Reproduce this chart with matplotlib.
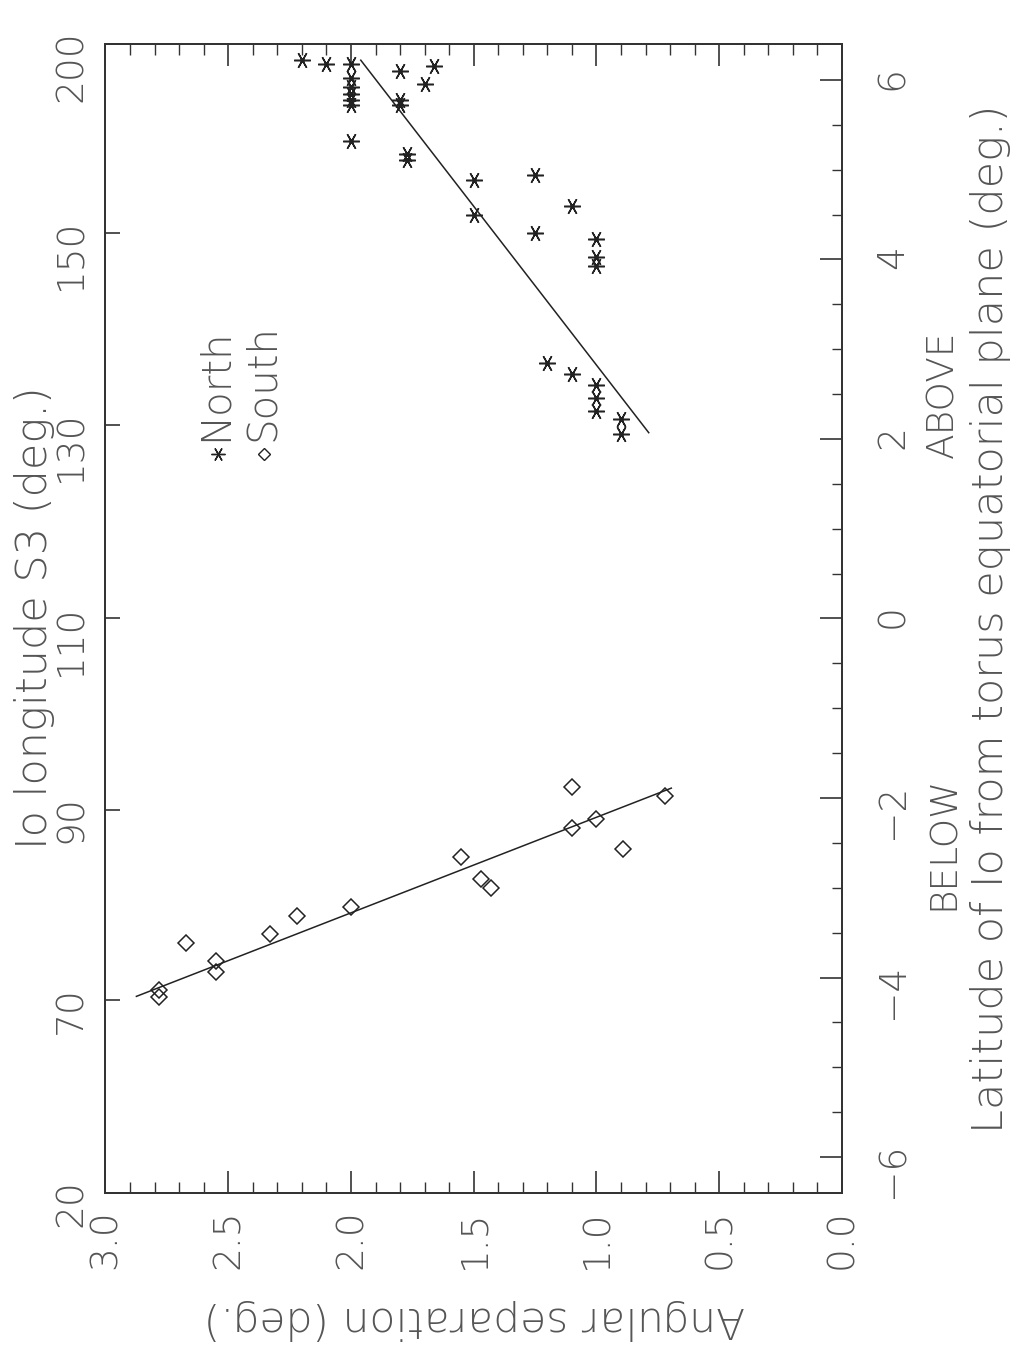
import matplotlib
matplotlib.use('Agg')
import matplotlib.pyplot as plt
import matplotlib.transforms as mtransforms
from matplotlib.ticker import MultipleLocator, FormatStrFormatter

# North points (asterisks): angular separation (deg.) vs latitude of Io (deg.)
north_sep = [2.2, 2.1, 2.0, 2.0, 2.0, 2.0, 2.0, 2.0, 1.8, 1.66, 1.70, 1.8, 1.8,
             2.0, 1.77, 1.77, 1.5, 1.5, 1.25, 1.1, 1.25, 1.0, 1.0, 1.0,
             1.2, 1.1, 1.0, 1.0, 1.0, 0.9, 0.9]
north_lat = [6.22, 6.18, 6.18, 6.02, 5.92, 5.84, 5.78, 5.72, 6.10, 6.16, 5.95, 5.78, 5.72,
             5.32, 5.17, 5.11, 4.88, 4.50, 4.94, 4.60, 4.30, 4.23, 4.03, 3.93,
             2.85, 2.72, 2.60, 2.46, 2.31, 2.22, 2.05]

# South points (diamonds)
south_sep = [2.78, 2.78, 2.67, 2.55, 2.55, 2.33, 2.22, 2.0, 1.55, 1.47, 1.43,
             1.1, 1.1, 1.0, 0.89, 0.72]
south_lat = [-4.14, -4.22, -3.62, -3.82, -3.94, -3.52, -3.31, -3.21, -2.66, -2.90, -3.00,
             -1.88, -2.33, -2.23, -2.57, -1.98]

# fitted lines (end points)
north_fit_sep = [1.96, 0.787]
north_fit_lat = [6.22, 2.07]
south_fit_sep = [2.874, 0.695]
south_fit_lat = [-4.21, -1.89]

# Io longitude S3 ticks placed on the latitude scale
lon_labels = ['20', '70', '90', '110', '130', '150', '200']
lon_pos = [-6.4, -4.25, -2.13, 0.0, 2.16, 4.3, 6.4]

ink = '#222222'
txt = '#555555'
fs_tick = 27
fs_lab = 31

plt.rcParams['font.family'] = ['DejaVu Sans']
plt.rcParams['axes.edgecolor'] = '#333333'
plt.rcParams['axes.linewidth'] = 1.3

fig = plt.figure(figsize=(10.23, 13.55), dpi=100)
ax = fig.add_axes([0.1031, 0.1196, 0.7199, 0.8479])
ax_l = ax.twinx()  # carries the Io longitude ticks on the left side

# data
ax.plot(north_sep, north_lat, linestyle='none', marker=(6, 2, 90), ms=12, mew=1.1, color=ink)
ax.plot(north_sep, north_lat, linestyle='none', marker='o', ms=2.5, color=ink)
ax.plot(south_sep, south_lat, linestyle='none', marker='D', ms=8, mfc='none', mec=ink, mew=1.1)
ax.plot(north_fit_sep, north_fit_lat, color=ink, lw=1.1)
ax.plot(south_fit_sep, south_fit_lat, color=ink, lw=1.1)

# legend drawn by hand
ax.plot([2.54], [1.83], linestyle='none', marker=(6, 2, 90), ms=10, mew=1.0, color=ink)
ax.plot([2.355], [1.83], linestyle='none', marker='D', ms=6, mfc='none', mec=ink, mew=1.0)
ax.text(2.555, 1.98, 'North', rotation=90, rotation_mode='anchor', ha='left', va='center',
        fontsize=29, color=txt, fontweight='light')
ax.text(2.36, 1.98, 'South', rotation=90, rotation_mode='anchor', ha='left', va='center',
        fontsize=29, color=txt, fontweight='light')

ax.set_xlim(3.0, 0.0)
ax.set_ylim(-6.4, 6.4)

# angular separation axis (bottom, mirrored on top)
ax.xaxis.set_major_locator(MultipleLocator(0.5))
ax.xaxis.set_minor_locator(MultipleLocator(0.1))
ax.xaxis.set_major_formatter(FormatStrFormatter('%.1f'))
ax.tick_params(axis='x', which='both', direction='in', top=True, bottom=True,
               labeltop=False, color='#333333')
ax.tick_params(axis='x', which='major', length=16, width=1.2, labelsize=fs_tick,
               labelrotation=90, pad=12, labelcolor=txt)
ax.tick_params(axis='x', which='minor', length=8, width=1.0)

# latitude axis (right)
ax.yaxis.tick_right()
ax.yaxis.set_major_locator(MultipleLocator(2))
ax.yaxis.set_minor_locator(MultipleLocator(0.5))
ax.tick_params(axis='y', which='both', direction='in', left=False, right=True,
               labelleft=False, labelright=True, color='#333333')
ax.tick_params(axis='y', which='major', length=16, width=1.2, labelsize=fs_tick,
               labelrotation=90, pad=24, labelcolor=txt)
ax.tick_params(axis='y', which='minor', length=7, width=1.0)

# Io longitude axis (left)
ax_l.set_ylim(-6.4, 6.4)
ax_l.yaxis.tick_left()
ax_l.set_yticks(lon_pos, lon_labels)
ax_l.tick_params(axis='y', which='both', direction='in', left=True, right=False,
                 labelleft=True, labelright=False, length=11, width=1.2,
                 labelsize=fs_tick, labelrotation=90, pad=12, labelcolor=txt,
                 color='#333333')
ax_l.yaxis.set_minor_locator(plt.NullLocator())

for t in ax.get_xticklabels() + ax.get_yticklabels() + ax_l.get_yticklabels():
    t.set_fontweight('light')

# axis titles
fig.text(0.464, 0.026, 'Angular separation (deg.)', rotation=180, ha='center', va='center',
         fontsize=30.5, color=txt, fontweight='light')
fig.text(0.968, 0.543, 'Latitude of Io from torus equatorial plane (deg.)', rotation=90,
         ha='center', va='center', fontsize=fs_lab, color=txt, fontweight='light')
fig.text(0.034, 0.544, 'Io longitude S3 (deg.)', rotation=90, ha='center', va='center',
         fontsize=fs_lab, color=txt, fontweight='light')

trans = mtransforms.blended_transform_factory(fig.transFigure, ax.transData)
ax.text(0.922, 2.5, 'ABOVE', transform=trans, rotation=90, ha='center', va='center',
        fontsize=fs_tick, color=txt, fontweight='light')
ax.text(0.922, -2.5, 'BELOW', transform=trans, rotation=90, ha='center', va='center',
        fontsize=fs_tick, color=txt, fontweight='light')

fig.savefig('out.png', dpi=100, facecolor='white')
